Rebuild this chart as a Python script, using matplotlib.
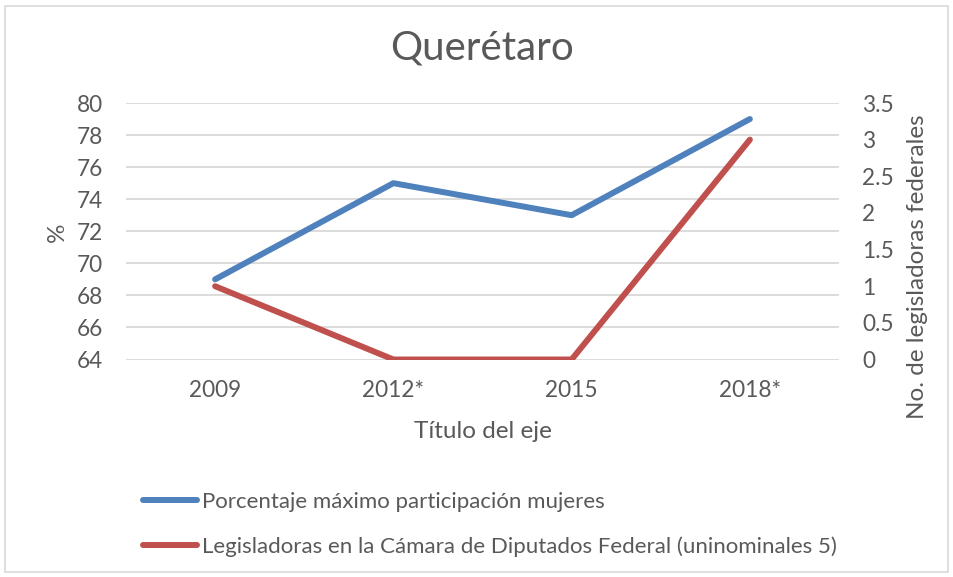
import matplotlib.pyplot as plt
from matplotlib.lines import Line2D
from matplotlib.patches import Rectangle

# datos
anios = ["2009", "2012*", "2015", "2018*"]
porcentaje_mujeres = [69, 75, 73, 79]
legisladoras = [1, 0, 0, 3]

azul = "#4F81BD"
rojo = "#C0504D"
gris_texto = "#595959"
gris_rejilla = "#D9D9D9"

plt.rcParams["font.family"] = ["Lato", "DejaVu Sans"]

W, H = 954, 577
fig = plt.figure(figsize=(W / 100, H / 100), dpi=100)

# marco exterior
fig.patches.append(Rectangle((5 / W, 5 / H), (W - 11) / W, (H - 11) / H,
                             transform=fig.transFigure, fill=False,
                             edgecolor=gris_rejilla, linewidth=1.2))

left, right, top, bottom = 126, 839, 103, 359.5
ax = fig.add_axes([left / W, 1 - bottom / H, (right - left) / W, (bottom - top) / H])
ax2 = ax.twinx()

x = range(len(anios))
ax.plot(x, porcentaje_mujeres, color=azul, linewidth=4.3, solid_capstyle="round", zorder=3)
ax2.plot(x, legisladoras, color=rojo, linewidth=4.3, solid_capstyle="round", zorder=3)

ax.set_xlim(-0.5, 3.5)
ax.set_ylim(64, 80)
ax.set_yticks(range(64, 81, 2))
ax2.set_ylim(0, 3.5)
ax2.set_yticks([0, 0.5, 1, 1.5, 2, 2.5, 3, 3.5])
ax2.set_yticklabels(["0", "0.5", "1", "1.5", "2", "2.5", "3", "3.5"])
ax.set_xticks(list(x))
ax.set_xticklabels(anios)

ax.grid(axis="y", color=gris_rejilla, linewidth=1.3)
ax.set_axisbelow(True)
for a in (ax, ax2):
    for s in a.spines.values():
        s.set_visible(False)
    a.tick_params(length=0, labelsize=16.3, labelcolor=gris_texto)
ax.tick_params(axis="x", pad=15)
ax.tick_params(axis="y", pad=16.5)
ax2.tick_params(axis="y", pad=16.5)

# títulos de ejes colocados como en el original
fig.text(483 / W, 1 - 432 / H, "Título del eje", ha="center", va="center",
         fontsize=17.5, color=gris_texto)
fig.text(57 / W, 1 - 232 / H, "%", ha="center", va="center", rotation=90,
         fontsize=17.5, color=gris_texto)
fig.text(918 / W, 1 - 267 / H, "No. de legisladoras federales", ha="center", va="center",
         rotation=90, fontsize=17.5, color=gris_texto)

fig.text(482 / W, 1 - 48 / H, "Querétaro", ha="center", va="center",
         fontsize=29, color=gris_texto)

handles = [Line2D([], [], color=azul, linewidth=4.3, solid_capstyle="round"),
           Line2D([], [], color=rojo, linewidth=4.3, solid_capstyle="round")]
etiquetas = ["Porcentaje máximo participación mujeres",
             "Legisladoras en la Cámara de Diputados Federal (uninominales 5)"]
fig.legend(handles, etiquetas, loc="upper left", bbox_to_anchor=(143 / W, 1 - 492 / H),
           frameon=False, fontsize=16, labelcolor=gris_texto, handlelength=2.45,
           handletextpad=0.22, labelspacing=1.08, borderaxespad=0, borderpad=0)

fig.savefig("out.png", dpi=100)
